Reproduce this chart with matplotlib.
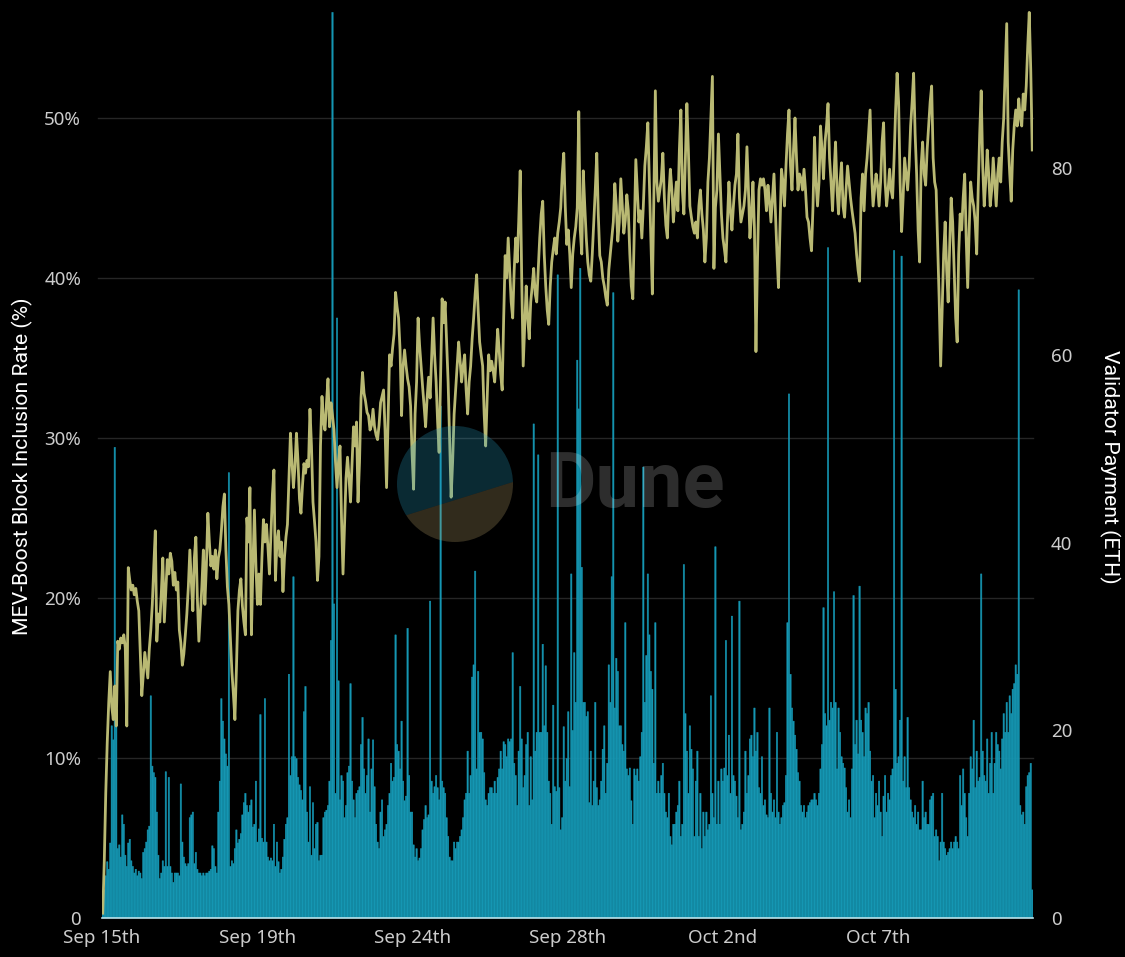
import matplotlib
matplotlib.use("Agg")
import matplotlib.pyplot as plt
import matplotlib.transforms as mtransforms
from matplotlib.patches import Circle, Polygon
import numpy as np

# hourly-ish samples, Sep 15th -> Oct 11th
inclusion_rate = [
    0.3, 3.5, 7.8, 11.0, 13.5, 15.4, 13.2, 12.4, 14.5, 12.0,
    17.3, 16.8, 17.5, 17.2, 17.7, 16.9, 12.0, 21.9, 21.1, 20.5,
    20.8, 20.2, 20.6, 19.8, 19.2, 16.5, 13.9, 15.2, 16.6, 15.8,
    15.0, 16.8, 18.0, 19.6, 22.0, 24.2, 17.3, 19.0, 18.5, 20.3,
    22.5, 18.5, 20.5, 22.4, 21.5, 22.8, 22.3, 20.8, 21.6, 20.5,
    21.0, 18.0, 17.2, 15.8, 16.5, 17.7, 19.0, 20.7, 23.0, 21.0,
    19.2, 22.5, 23.8, 20.0, 17.3, 19.0, 20.7, 23.0, 19.6, 22.0,
    25.3, 23.5, 22.0, 22.6, 21.8, 23.0, 21.2, 22.5, 23.0, 24.2,
    25.7, 26.5, 23.0, 20.7, 19.6, 17.5, 15.4, 14.0, 12.4, 15.5,
    19.2, 20.5, 21.2, 19.5, 18.5, 17.7, 25.0, 23.5, 26.9, 17.7,
    22.0, 25.5, 22.0, 19.6, 21.5, 19.6, 22.5, 24.9, 23.5, 24.6,
    23.2, 21.5, 24.0, 26.5, 28.0, 21.1, 23.5, 24.2, 22.6, 23.5,
    20.4, 22.5, 23.8, 24.6, 27.5, 30.3, 28.5, 26.9, 28.2, 30.3,
    28.6, 26.2, 25.3, 27.0, 28.4, 27.8, 28.6, 28.2, 31.8, 29.5,
    26.0, 24.8, 23.5, 21.1, 22.6, 29.5, 32.6, 31.0, 30.5, 32.2,
    33.7, 30.7, 32.2, 31.4, 30.5, 28.5, 26.9, 28.5, 29.5, 25.0,
    21.5, 24.5, 27.5, 28.8, 27.5, 26.0, 28.4, 30.7, 29.5, 31.0,
    26.0, 28.5, 32.5, 34.1, 32.8, 32.3, 31.6, 31.4, 30.5, 30.8,
    31.8, 30.7, 30.2, 29.9, 30.8, 32.2, 32.6, 33.0, 30.5, 26.9,
    31.2, 35.2, 34.5, 35.6, 36.5, 39.1, 38.2, 37.5, 35.5, 31.4,
    34.5, 35.5, 34.5, 33.7, 33.2, 32.0, 29.0, 26.8, 31.5, 33.5,
    37.5, 35.8, 34.5, 33.2, 32.0, 30.7, 32.5, 33.8, 32.5, 35.0,
    37.5, 35.2, 33.5, 31.0, 29.1, 34.0, 38.7, 37.2, 38.5, 36.0,
    33.5, 30.0, 26.3, 28.5, 31.5, 33.0, 34.5, 36.0, 34.8, 33.5,
    34.5, 35.2, 33.0, 31.5, 33.5, 34.5, 36.2, 37.5, 39.0, 40.2,
    38.0, 36.0, 35.2, 34.5, 31.5, 29.5, 32.5, 35.2, 34.2, 34.8,
    34.2, 33.5, 35.0, 36.8, 35.5, 34.0, 33.0, 37.5, 41.4, 40.0,
    42.5, 40.5, 38.5, 37.5, 40.5, 42.5, 41.0, 43.5, 46.7, 40.0,
    34.5, 37.0, 39.5, 37.5, 36.2, 38.5, 39.5, 40.6, 39.0, 38.5,
    40.5, 42.5, 44.0, 44.8, 41.5, 39.5, 38.0, 37.1, 39.5, 41.0,
    41.8, 42.5, 41.5, 42.8, 43.5, 44.4, 46.5, 47.8, 44.5, 42.1,
    43.0, 41.5, 39.4, 41.5, 42.5, 43.2, 44.4, 50.4, 43.0, 41.5,
    46.7, 44.5, 42.5, 41.0, 40.2, 39.8, 41.5, 43.5, 45.5, 47.8,
    44.0, 41.4, 41.0, 40.0, 39.5, 38.8, 38.3, 40.5, 41.5, 42.5,
    43.5, 45.9, 44.5, 42.3, 43.5, 46.2, 44.5, 42.8, 43.6, 45.2,
    44.2, 41.5, 39.5, 38.7, 43.0, 47.4, 45.5, 43.5, 44.2, 42.5,
    44.5, 47.0, 48.2, 49.7, 46.0, 42.5, 39.0, 45.0, 51.7, 46.0,
    44.8, 45.5, 46.2, 47.8, 45.0, 43.3, 42.5, 45.2, 46.8, 45.5,
    43.5, 44.8, 46.0, 44.2, 48.0, 50.5, 45.5, 44.0, 47.5, 50.9,
    48.0, 44.5, 43.8, 43.2, 42.8, 43.5, 42.5, 44.5, 45.5, 44.0,
    43.0, 41.0, 42.5, 46.0, 47.5, 50.0, 52.6, 40.6, 44.4, 45.5,
    49.0, 46.5, 44.0, 42.5, 41.8, 41.0, 43.5, 46.0, 44.2, 43.0,
    44.5, 45.8, 46.5, 49.0, 45.0, 43.5, 44.0, 44.5, 45.5, 48.2,
    45.5, 42.5, 44.0, 46.0, 43.0, 35.4, 41.0, 45.5, 46.2, 45.8,
    46.2, 45.5, 44.2, 45.8, 44.8, 43.5, 45.0, 46.5, 44.0, 41.5,
    39.4, 43.0, 46.8, 46.0, 44.5, 47.0, 49.0, 50.5, 47.0, 45.5,
    48.0, 50.0, 47.5, 45.5, 46.5, 46.2, 45.5, 46.8, 45.5, 43.8,
    43.5, 42.5, 41.7, 44.5, 48.8, 46.0, 44.5, 46.0, 49.5, 48.0,
    46.2, 48.5, 49.5, 50.9, 47.5, 46.0, 44.2, 46.5, 48.5, 45.5,
    44.0, 46.0, 47.2, 44.5, 43.8, 45.5, 47.0, 46.0, 45.0, 44.2,
    43.5, 42.8, 41.5, 40.5, 39.8, 45.0, 46.5, 44.2, 46.5, 47.5,
    49.0, 50.5, 46.5, 44.5, 45.5, 46.5, 45.8, 44.5, 46.0, 48.5,
    49.7, 46.0, 44.5, 45.5, 46.8, 45.5, 45.0, 47.5, 50.5, 52.8,
    51.0, 46.0, 42.9, 45.0, 47.5, 46.5, 45.5, 47.0, 49.5, 51.0,
    52.8, 49.0, 46.5, 43.0, 41.0, 47.0, 48.5, 46.5, 45.8, 48.0,
    49.5, 51.0, 52.0, 47.5, 46.0, 45.5, 42.0, 38.7, 34.5, 38.0,
    41.5, 43.5, 40.5, 38.5, 42.0, 45.0, 43.5, 40.5, 37.5, 36.0,
    41.5, 44.0, 43.0, 45.0, 46.5, 42.5, 39.4, 43.0, 46.0, 45.0,
    44.5, 43.5, 41.5, 45.5, 49.0, 51.7, 47.0, 44.5, 46.0, 48.0,
    46.5, 44.5, 45.5, 47.5, 46.0, 44.5, 46.5, 47.5, 46.0, 48.5,
    50.0, 53.0, 55.9, 48.5, 46.5, 44.8, 48.0, 49.5, 50.5, 49.5,
    51.2, 50.0, 49.5, 51.5, 50.5, 52.0, 54.5, 56.6, 53.0, 48.0,
]

validator_payment = [
    1.5, 3.0, 4.5, 6.0, 5.2, 8.0, 20.5, 19.0, 50.2, 21.0,
    7.4, 7.8, 6.5, 11.0, 10.0, 6.7, 5.5, 8.0, 8.4, 6.1,
    5.5, 4.8, 5.2, 4.5, 5.0, 4.8, 4.2, 7.0, 7.4, 8.1,
    9.4, 9.8, 23.7, 16.2, 15.5, 15.0, 11.3, 6.7, 4.2, 4.8,
    6.1, 5.5, 15.6, 5.5, 15.0, 5.5, 4.8, 3.8, 4.8, 4.8,
    4.8, 4.5, 14.3, 8.1, 6.5, 5.8, 5.5, 5.8, 10.7, 11.0,
    11.3, 5.8, 7.0, 5.2, 4.8, 4.8, 4.5, 4.8, 4.5, 4.8,
    4.8, 5.0, 5.2, 7.7, 7.4, 5.5, 4.8, 11.3, 14.6, 23.4,
    21.0, 19.1, 17.5, 16.2, 47.5, 5.5, 6.1, 5.8, 7.4, 9.4,
    8.0, 8.4, 9.0, 11.0, 12.3, 13.3, 12.0, 11.3, 12.0, 12.6,
    9.7, 10.0, 14.6, 8.1, 9.5, 21.7, 8.5, 8.1, 23.4, 8.1,
    6.5, 6.1, 6.4, 6.1, 10.0, 5.5, 8.1, 6.0, 4.8, 5.2,
    6.5, 8.4, 10.0, 10.7, 26.0, 15.2, 17.2, 36.4, 17.2, 17.0,
    15.0, 14.2, 13.6, 12.6, 22.0, 24.7, 11.3, 8.1, 14.0, 6.7,
    12.3, 7.4, 10.0, 10.2, 6.1, 6.7, 6.7, 10.7, 11.3, 11.5,
    12.0, 14.6, 29.6, 96.6, 33.5, 13.3, 64.0, 25.3, 12.6, 15.2,
    14.6, 10.7, 12.0, 15.5, 16.2, 25.0, 14.6, 12.6, 10.7, 13.3,
    13.6, 14.0, 18.5, 21.4, 15.9, 13.3, 15.2, 19.1, 11.3, 15.9,
    19.0, 14.0, 10.0, 8.1, 7.4, 11.3, 12.6, 8.7, 9.4, 10.0,
    12.0, 13.3, 16.5, 14.6, 15.0, 30.2, 18.5, 17.8, 15.9, 21.0,
    14.6, 12.5, 13.0, 30.9, 15.2, 11.3, 11.3, 7.8, 6.5, 7.4,
    6.1, 6.4, 7.4, 9.4, 10.5, 12.0, 10.7, 11.0, 33.8, 14.6,
    13.3, 14.0, 15.2, 13.9, 12.6, 54.6, 14.6, 13.9, 13.3, 10.7,
    8.7, 6.5, 6.1, 6.1, 8.1, 7.4, 8.1, 8.1, 8.7, 9.4,
    10.7, 12.6, 13.3, 17.8, 13.3, 15.2, 25.7, 27.0, 37.0, 15.9,
    26.3, 19.8, 19.8, 19.1, 15.5, 12.6, 12.0, 13.3, 13.9, 13.9,
    13.3, 14.6, 13.3, 15.0, 15.9, 17.8, 15.9, 18.8, 18.5, 17.2,
    19.1, 18.8, 19.1, 28.3, 16.5, 15.2, 12.0, 17.8, 24.7, 19.1,
    13.9, 15.2, 18.5, 19.8, 12.0, 17.2, 12.6, 52.7, 17.8, 19.8,
    49.4, 19.8, 19.8, 29.2, 20.5, 26.9, 19.8, 14.6, 13.3, 10.0,
    22.7, 14.0, 13.5, 68.6, 13.9, 9.4, 10.7, 20.4, 14.6, 17.0,
    22.0, 14.0, 36.7, 20.0, 28.3, 23.0, 59.5, 54.3, 69.3, 37.4,
    23.0, 23.0, 21.5, 22.0, 12.3, 17.8, 12.0, 14.6, 23.0, 13.9,
    12.0, 12.6, 14.6, 18.0, 20.5, 13.3, 16.5, 27.0, 23.0, 36.4,
    66.7, 22.4, 27.7, 26.3, 20.5, 20.5, 18.5, 17.8, 31.5, 15.9,
    15.2, 16.0, 12.5, 10.0, 15.9, 15.2, 15.9, 14.6, 17.2, 19.8,
    48.1, 23.0, 28.0, 36.7, 30.2, 26.3, 24.4, 16.5, 31.5, 13.3,
    14.6, 13.3, 15.2, 16.5, 13.3, 11.3, 10.7, 13.3, 8.7, 7.8,
    10.0, 10.0, 11.3, 12.0, 14.6, 8.7, 10.0, 37.7, 21.8, 17.8,
    13.3, 20.5, 18.0, 15.9, 8.7, 14.6, 17.8, 8.7, 13.3, 7.4,
    11.3, 8.7, 11.3, 9.4, 10.0, 23.7, 13.3, 10.7, 39.6, 10.0,
    14.6, 10.0, 15.9, 14.6, 16.0, 29.6, 15.2, 19.5, 13.3, 32.2,
    15.2, 14.6, 13.0, 10.7, 33.8, 9.4, 10.0, 11.3, 17.8, 13.3,
    15.2, 19.1, 19.5, 17.2, 22.4, 17.8, 19.8, 13.9, 13.3, 17.2,
    12.0, 12.6, 11.0, 10.7, 22.4, 13.3, 11.3, 12.6, 10.7, 19.8,
    11.3, 10.0, 10.7, 12.0, 12.3, 15.2, 31.5, 55.9, 26.0, 22.4,
    21.0, 19.5, 18.0, 15.5, 14.6, 12.0, 11.3, 12.0, 10.7, 11.3,
    12.0, 12.3, 12.6, 12.6, 13.3, 12.6, 12.0, 13.3, 15.9, 18.5,
    33.1, 21.8, 20.5, 71.5, 21.1, 23.0, 22.4, 34.8, 23.0, 15.9,
    22.4, 19.8, 17.2, 16.5, 16.0, 13.9, 11.3, 12.6, 10.7, 15.9,
    34.4, 18.5, 21.1, 17.5, 35.4, 21.1, 19.8, 17.2, 22.4, 21.8,
    23.0, 17.8, 14.6, 15.2, 10.7, 13.3, 12.0, 14.6, 11.3, 8.7,
    13.0, 15.2, 11.3, 13.3, 12.6, 15.2, 15.9, 71.2, 24.4, 16.5,
    17.2, 21.1, 70.6, 14.6, 17.2, 13.9, 21.4, 13.9, 12.6, 11.3,
    10.7, 12.0, 10.0, 11.3, 9.4, 9.4, 14.6, 10.7, 11.3, 10.0,
    10.0, 12.6, 13.0, 13.3, 8.7, 9.4, 8.7, 6.1, 8.1, 13.3,
    8.1, 7.4, 6.7, 7.0, 7.4, 8.1, 7.4, 8.1, 8.7, 8.1,
    7.4, 15.2, 12.0, 15.9, 13.3, 10.7, 8.7, 13.3, 17.2, 15.9,
    21.1, 13.9, 17.8, 14.6, 15.0, 36.7, 17.8, 15.2, 14.6, 19.1,
    13.3, 16.5, 19.8, 13.3, 16.5, 19.8, 18.5, 17.8, 15.9, 19.1,
    21.8, 19.8, 23.0, 19.8, 23.7, 21.8, 24.4, 25.0, 27.0, 26.0,
    67.0, 12.0, 11.0, 11.3, 10.0, 14.0, 15.2, 15.5, 16.5, 3.0,
]

date_labels = ["Sep 15th", "Sep 19th", "Sep 24th", "Sep 28th", "Oct 2nd", "Oct 7th"]
rate_ticks = [0, 10, 20, 30, 40, 50]
rate_tick_labels = ["0", "10%", "20%", "30%", "40%", "50%"]
eth_ticks = [0, 20, 40, 60, 80]

n = len(inclusion_rate)
x = np.arange(n)

BG = "#000000"
TICK_COLOR = "#cccccc"
LINE_COLOR = "#b9b973"
BAR_COLOR = "#1596b2"
GRID_COLOR = "#262626"

plt.rcParams["font.family"] = ["Noto Sans", "DejaVu Sans"]

fig = plt.figure(figsize=(11.25, 9.57), dpi=100, facecolor=BG)
# bars live on the bottom axes (right-hand ETH scale), line on the twin (left % scale)
ax = fig.add_axes([102 / 1125, 1 - 918 / 957, 931 / 1125, 908 / 957])
ax.set_facecolor(BG)
ax2 = ax.twinx()
ax2.patch.set_visible(False)

ax.bar(x, validator_payment, width=0.9, color=BAR_COLOR, edgecolor=BAR_COLOR,
       linewidth=0.35, snap=False, zorder=2)
ax.set_ylim(0, 96.85)
ax.set_xlim(-0.5, n - 0.5)
ax.yaxis.tick_right()
ax.yaxis.set_label_position("right")
ax.set_yticks(eth_ticks)
ax.set_yticklabels([str(t) for t in eth_ticks])

ax2.plot(x, inclusion_rate, color=LINE_COLOR, lw=2.0, solid_joinstyle="round", zorder=3)
ax2.set_ylim(0, 56.75)
ax2.yaxis.tick_left()
ax2.yaxis.set_label_position("left")
ax2.set_yticks(rate_ticks)
ax2.set_yticklabels(rate_tick_labels)

# gridlines follow the % ticks but sit behind the bars
grid_tr = mtransforms.blended_transform_factory(ax.transAxes, ax2.transData)
for t in rate_ticks[1:]:
    ax.plot([-0.004, 1], [t, t], transform=grid_tr, color=GRID_COLOR, lw=1.0,
            zorder=1, clip_on=False)

xt = [-0.5 + k * n / 6 for k in range(6)]
ax.set_xticks(xt)
ax.set_xticklabels(date_labels)

for a in (ax, ax2):
    for s in a.spines.values():
        s.set_visible(False)
    a.tick_params(axis="both", length=0, colors=TICK_COLOR, labelsize=13.5)
ax.spines["bottom"].set_visible(True)
ax.spines["bottom"].set_color("#b9e4ec")
ax.spines["bottom"].set_linewidth(1.2)
ax.spines["bottom"].set_zorder(4)
ax.tick_params(axis="x", pad=8)
ax.tick_params(axis="y", pad=13)
ax2.tick_params(axis="y", pad=15)

fig.text(22 / 1125, 1 - 466 / 957, "MEV-Boost Block Inclusion Rate (%)", rotation=90,
         ha="center", va="center", color="white", fontsize=15.3, family="Roboto")
fig.text(1110 / 1125, 1 - 467 / 957, "Validator Payment (ETH)", rotation=-90,
         ha="center", va="center", color="white", fontsize=15.3, family="Roboto")

# Dune watermark
wm = fig.add_axes([0, 0, 1, 1], zorder=10)
wm.set_xlim(0, 1125)
wm.set_ylim(957, 0)
wm.axis("off")
wm.patch.set_visible(False)
circ = Circle((455, 484), 58, facecolor="#2aa3c8", alpha=0.26, edgecolor="none")
wm.add_patch(circ)
clip = Circle((455, 484), 58, transform=wm.transData, visible=False)
wm.add_patch(clip)
lower = Polygon([(380, 523.4), (530, 476.7), (530, 560), (380, 560)],
                facecolor="#b6a06a", alpha=0.27, edgecolor="none")
wm.add_patch(lower)
lower.set_clip_path(clip)
circ.set_clip_path(Polygon([(380, 523.4), (530, 476.7), (530, 400), (380, 400)],
                           transform=wm.transData))
wm.text(545, 486, "Dune", ha="left", va="center", fontsize=56, fontweight="bold",
        family="Roboto", color="white", alpha=0.18)

fig.savefig("out.png", dpi=100, facecolor=BG)
